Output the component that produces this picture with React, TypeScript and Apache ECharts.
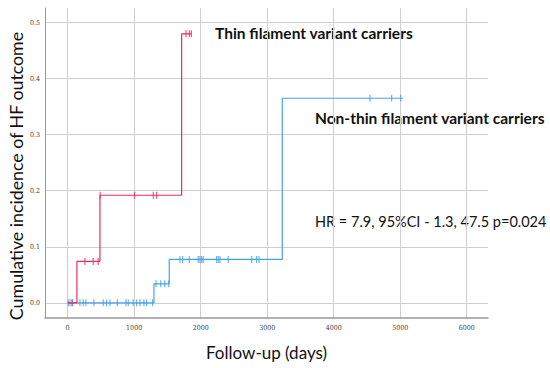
import React, { useEffect, useRef } from "react";
import * as echarts from "echarts";

// Thin filament variant carriers (red)
const thinEventTimes = [140, 486, 1714];
const thinLevels = [0, 0.074, 0.192, 0.48];
const thinEndTime = 1865;
const thinCensorTimes = [65, 260, 385, 460, 490, 1007, 1288, 1338, 1780, 1830, 1860];

// Non-thin filament variant carriers (blue)
const nonThinEventTimes = [1298, 1528, 3227];
const nonThinLevels = [0, 0.034, 0.0775, 0.365];
const nonThinEndTime = 5042;
const nonThinCensorTimes = [
  10, 35, 75, 185, 235, 275, 395, 535, 586, 636, 746, 877, 912, 987, 1037, 1087, 1147, 1188, 1278,
  1330, 1400, 1460, 1520,
  1689, 1729, 1829, 1964, 1989, 2015, 2039, 2241, 2265, 2291, 2415, 2767, 2842, 2877,
  4546, 4872, 5008,
];

const xMin = -340;
const xMax = 6320;
const yMin = -0.027;
const yMax = 0.526;

const RED = "#ee2a62";
const BLUE = "#45a2e8";
const TEXT_FONT = "Lato, Open Sans, sans-serif";

function stepPoints(times: number[], levels: number[], end: number): number[][] {
  const pts: number[][] = [[0, levels[0]]];
  times.forEach((t, i) => {
    pts.push([t, levels[i]]);
    pts.push([t, levels[i + 1]]);
  });
  pts.push([end, levels[levels.length - 1]]);
  return pts;
}

function levelAt(times: number[], levels: number[], t: number): number {
  let lv = levels[0];
  times.forEach((et, i) => {
    if (t >= et) lv = levels[i + 1];
  });
  return lv;
}

function censorPoints(censor: number[], times: number[], levels: number[]): number[][] {
  return censor.map((t) => [t, levelAt(times, levels, t)]);
}

export default function App() {
  const ref = useRef<HTMLDivElement>(null);
  useEffect(() => {
    if (!ref.current) return;
    const chart = echarts.init(ref.current, undefined, { renderer: "svg" });
    const tickFont = {
      fontFamily: "DejaVu Serif Condensed, Liberation Serif, serif",
      fontSize: 7,
      color: "#444",
    };
    chart.setOption({
      animation: false,
      backgroundColor: "#ffffff",
      grid: {
        left: 45,
        right: 62,
        top: 8,
        bottom: 50,
        containLabel: false,
        outerBoundsMode: "none",
      },
      xAxis: {
        type: "value",
        min: xMin,
        max: xMax,
        splitNumber: 7,
        name: "Follow-up (days)",
        nameLocation: "middle",
        nameGap: 26,
        nameTextStyle: { fontFamily: TEXT_FONT, fontSize: 17, color: "#111" },
        axisLine: { show: true, onZero: false, lineStyle: { color: "#999", width: 1.5 } },
        axisTick: { show: false },
        axisLabel: {
          ...tickFont,
          margin: 6,
          showMinLabel: false,
          showMaxLabel: false,
          formatter: (v: number) => String(Math.round(v)),
        },
        splitLine: {
          show: true,
          showMinLine: false,
          showMaxLine: false,
          lineStyle: { color: "#cfcfcf", width: 1 },
        },
      },
      yAxis: {
        type: "value",
        min: yMin,
        max: yMax,
        splitNumber: 5,
        axisLine: { show: true, onZero: false, lineStyle: { color: "#999", width: 1 } },
        axisTick: { show: false },
        axisLabel: {
          ...tickFont,
          margin: 5,
          showMinLabel: false,
          showMaxLabel: false,
          formatter: (v: number) => v.toFixed(1),
        },
        splitLine: {
          show: true,
          showMinLine: false,
          showMaxLine: false,
          lineStyle: { color: "#cfcfcf", width: 1 },
        },
      },
      series: [
        {
          type: "line",
          data: stepPoints(nonThinEventTimes, nonThinLevels, nonThinEndTime),
          symbol: "none",
          lineStyle: { color: BLUE, width: 1.2 },
          z: 3,
        },
        {
          type: "scatter",
          data: censorPoints(nonThinCensorTimes, nonThinEventTimes, nonThinLevels),
          symbol: "rect",
          symbolSize: [1.2, 7],
          itemStyle: { color: BLUE },
          z: 4,
        },
        {
          type: "line",
          data: stepPoints(thinEventTimes, thinLevels, thinEndTime),
          symbol: "none",
          lineStyle: { color: RED, width: 1.2 },
          z: 5,
        },
        {
          type: "scatter",
          data: censorPoints(thinCensorTimes, thinEventTimes, thinLevels),
          symbol: "rect",
          symbolSize: [1.2, 7],
          itemStyle: { color: RED },
          z: 6,
        },
      ],
      graphic: [
        {
          type: "text",
          x: 16,
          y: 176,
          rotation: Math.PI / 2,
          style: {
            text: "Cumulative incidence of HF outcome",
            fontFamily: TEXT_FONT,
            fontSize: 17.8,
            fill: "#111",
            align: "center",
            verticalAlign: "middle",
          },
        },
        {
          type: "text",
          left: 215,
          top: 25,
          style: {
            text: "Thin filament variant carriers",
            fontFamily: TEXT_FONT,
            fontWeight: "bold",
            fontSize: 15.5,
            fill: "#111",
          },
        },
        {
          type: "text",
          left: 315,
          top: 110,
          style: {
            text: "Non-thin filament variant carriers",
            fontFamily: TEXT_FONT,
            fontWeight: "bold",
            fontSize: 15.5,
            fill: "#111",
          },
        },
        {
          type: "text",
          left: 315,
          top: 214,
          style: {
            text: "HR = 7.9, 95%CI - 1.3, 47.5 p=0.024",
            fontFamily: TEXT_FONT,
            fontSize: 14.5,
            fill: "#111",
          },
        },
      ],
    });
    return () => chart.dispose();
  }, []);
  return (
    <div
      ref={ref}
      style={{ position: "fixed", left: 0, top: 0, width: 550, height: 368 }}
    />
  );
}
